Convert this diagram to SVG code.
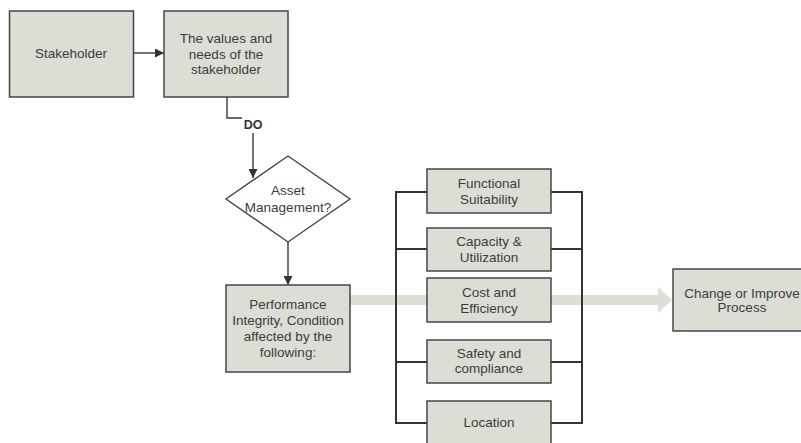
<svg xmlns="http://www.w3.org/2000/svg" width="801" height="443" viewBox="0 0 801 443">
  <style>
    .box { fill: #dcddd5; stroke: #454545; stroke-width: 1.5; }
    .lbl { font-family: "Liberation Sans", Arial, sans-serif; font-size: 13.5px; fill: #3c3c3c; text-anchor: middle; }
    .do { font-family: "Liberation Sans", Arial, sans-serif; font-size: 12.5px; font-weight: bold; fill: #333; text-anchor: middle; }
    .wire { fill: none; stroke: #3a3a3a; stroke-width: 1.4; }
    .bus { fill: none; stroke: #333; stroke-width: 2; }
  </style>
  <defs>
    <marker id="arrow" markerWidth="9" markerHeight="9" refX="9" refY="4.5" orient="auto" markerUnits="userSpaceOnUse">
      <path d="M0,0 L9,4.5 L0,9 Z" fill="#333"/>
    </marker>
  </defs>
  <rect width="801" height="443" fill="#ffffff"/>

  <!-- broad flow band from the performance box to the outcome -->
  <g id="flow-band">
    <rect x="350" y="295" width="309" height="10" fill="#dcdfd6"/>
    <path d="M658,287 L672,300 L658,313 Z" fill="#dcdfd6"/>
  </g>

  <g id="connectors">
    <line class="wire" x1="133" y1="53" x2="164" y2="53" marker-end="url(#arrow)"/>
    <path class="wire" d="M227,97 V118 H253 V178" marker-end="url(#arrow)"/>
    <rect x="242" y="116" width="22" height="17" fill="#ffffff"/>
    <text class="do" x="253" y="129">DO</text>
    <line class="wire" x1="288" y1="242" x2="288" y2="285" marker-end="url(#arrow)"/>
    <!-- factor buses -->
    <path class="bus" d="M427,192 H396 V423 H427 M396,249 H427 M396,362 H427"/>
    <path class="bus" d="M551,192 H582 V423 H551 M582,249 H551 M582,362 H551"/>
  </g>

  <g id="stakeholder">
    <rect class="box" x="9.5" y="11" width="124" height="86"/>
    <text class="lbl" x="71" y="58">Stakeholder</text>
  </g>

  <g id="values-needs">
    <rect class="box" x="164" y="11" width="124" height="86"/>
    <text class="lbl" x="226" y="43">The values and</text>
    <text class="lbl" x="226" y="58.5">needs of the</text>
    <text class="lbl" x="226" y="74">stakeholder</text>
  </g>

  <g id="asset-management">
    <path d="M288,156 L350,199 L288,242 L226,199 Z" fill="#ffffff" stroke="#454545" stroke-width="1.4"/>
    <text class="lbl" x="288" y="195">Asset</text>
    <text class="lbl" x="288" y="212">Management?</text>
  </g>

  <g id="performance">
    <rect class="box" x="226" y="285" width="124" height="87"/>
    <text class="lbl" x="288" y="309">Performance</text>
    <text class="lbl" x="288" y="325">Integrity, Condition</text>
    <text class="lbl" x="288" y="341">affected by the</text>
    <text class="lbl" x="288" y="357">following:</text>
  </g>

  <g id="functional-suitability">
    <rect class="box" x="427" y="169" width="124" height="44"/>
    <text class="lbl" x="489" y="188">Functional</text>
    <text class="lbl" x="489" y="204">Suitability</text>
  </g>

  <g id="capacity-utilization">
    <rect class="box" x="427" y="228" width="124" height="43"/>
    <text class="lbl" x="489" y="246">Capacity &amp;</text>
    <text class="lbl" x="489" y="262">Utilization</text>
  </g>

  <g id="cost-efficiency">
    <rect class="box" x="427" y="278" width="124" height="44"/>
    <text class="lbl" x="489" y="297">Cost and</text>
    <text class="lbl" x="489" y="313">Efficiency</text>
  </g>

  <g id="safety-compliance">
    <rect class="box" x="427" y="340" width="124" height="43"/>
    <text class="lbl" x="489" y="358">Safety and</text>
    <text class="lbl" x="489" y="373">compliance</text>
  </g>

  <g id="location">
    <rect class="box" x="427" y="401" width="124" height="45"/>
    <text class="lbl" x="489" y="427">Location</text>
  </g>

  <g id="change-improve">
    <rect class="box" x="673" y="269" width="138" height="62"/>
    <text class="lbl" x="742" y="298">Change or Improve</text>
    <text class="lbl" x="742" y="312">Process</text>
  </g>
</svg>
